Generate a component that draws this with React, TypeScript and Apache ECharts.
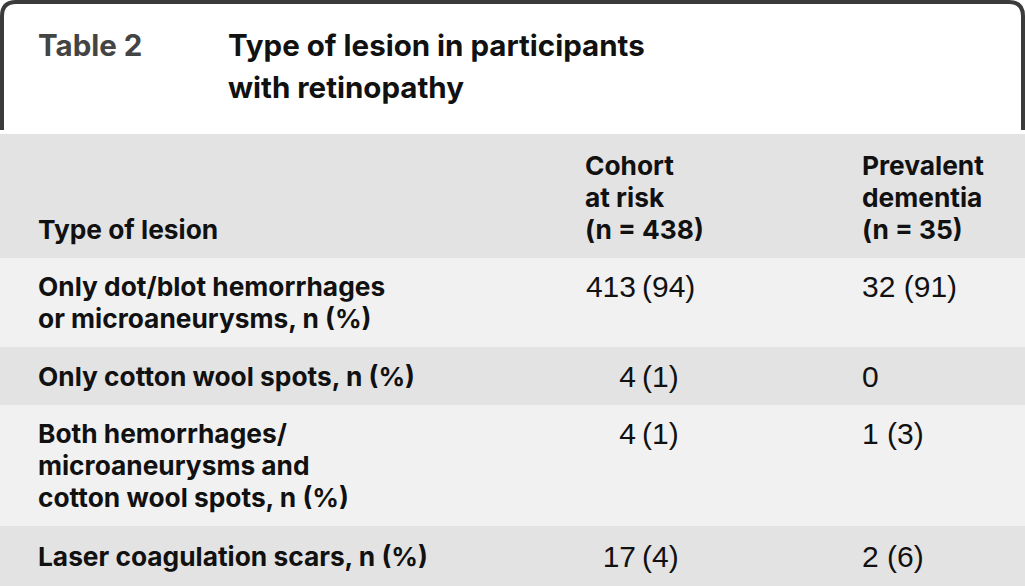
import React, { useEffect, useRef } from "react";
import * as echarts from "echarts";

const tableLabel = "Table 2";
const titleLines = ["Type of lesion in participants", "with retinopathy"];
const stubHeader = "Type of lesion";
const colHeaders = [
  ["Cohort", "at risk", "(n = 438)"],
  ["Prevalent", "dementia", "(n = 35)"],
];
const lesionTypes = [
  ["Only dot/blot hemorrhages", "or microaneurysms, n (%)"],
  ["Only cotton wool spots, n (%)"],
  ["Both hemorrhages/", "microaneurysms and", "cotton wool spots, n (%)"],
  ["Laser coagulation scars, n (%)"],
];
const cohortN = [413, 4, 4, 17];
const cohortPct: (number | null)[] = [94, 1, 1, 4];
const dementiaN = [32, 0, 1, 2];
const dementiaPct: (number | null)[] = [91, null, 3, 6];

const BOLD = "Inter";
const REG = "Liberation Sans";

export default function App() {
  const ref = useRef<HTMLDivElement>(null);
  useEffect(() => {
    if (!ref.current) return;
    const chart = echarts.init(ref.current, undefined, { renderer: "svg" });
    echarts.graphic.registerShape(
      "frame",
      echarts.graphic.extendPath(
        "M2 130 L2 16 Q2 2 16 2 L1009 2 Q1023 2 1023 16 L1023 130",
        {}
      )
    );
    const els: any[] = [];
    const txt = (
      s: string,
      x: number,
      y: number,
      opt: { bold?: boolean; size?: number; fill?: string; align?: string } = {}
    ) => {
      const size = opt.size ?? 26.3;
      const font = opt.bold
        ? `700 ${size}px ${BOLD}`
        : `400 ${size}px ${REG}`;
      els.push({
        type: "text",
        x,
        y,
        style: {
          text: s,
          font,
          fill: opt.fill ?? "#111",
          textAlign: opt.align ?? "left",
          align: opt.align ?? "left",
          textVerticalAlign: "middle",
          verticalAlign: "middle",
        },
      });
    };
    // frame
    els.push({
      type: "frame",
      x: 0,
      y: 0,
      style: { stroke: "#3b3b3b", lineWidth: 4, fill: "none" },
    });
    // backgrounds
    const bands = [
      [134, 258, "#e3e3e3"],
      [258, 347, "#f1f1f1"],
      [347, 405, "#e3e3e3"],
      [405, 526, "#f1f1f1"],
      [526, 586, "#e3e3e3"],
    ] as [number, number, string][];
    bands.forEach(([y0, y1, c]) =>
      els.push({
        type: "rect",
        shape: { x: 0, y: y0, width: 1025, height: y1 - y0 },
        style: { fill: c },
      })
    );
    // title
    txt(tableLabel, 38, 45, { bold: true, fill: "#444", size: 29.5 });
    titleLines.forEach((l, i) => txt(l, 228, 45 + i * 42, { bold: true, size: 29.5 }));
    // header
    txt(stubHeader, 38, 229, { bold: true });
    const colX = [585, 862];
    colHeaders.forEach((lines, c) =>
      lines.forEach((l, i) => txt(l, colX[c], 165 + i * 32, { bold: true }))
    );
    // rows
    const rowTop = [286, 376, 433, 556];
    lesionTypes.forEach((lines, r) => {
      lines.forEach((l, i) => txt(l, 38, rowTop[r] + i * 32, { bold: true }));
      const y = rowTop[r];
      txt(String(cohortN[r]), 636, y, { align: "right", size: 30 });
      if (cohortPct[r] != null) txt(`(${cohortPct[r]})`, 642, y, { size: 30 });
      const d =
        dementiaPct[r] != null
          ? `${dementiaN[r]} (${dementiaPct[r]})`
          : String(dementiaN[r]);
      txt(d, 862, y, { size: 30 });
    });

    chart.setOption({ animation: false, graphic: { elements: els } });
    return () => chart.dispose();
  }, []);
  return (
    <div
      ref={ref}
      style={{ position: "absolute", left: 0, top: 0, width: 1025, height: 586, background: "#fff" }}
    />
  );
}
